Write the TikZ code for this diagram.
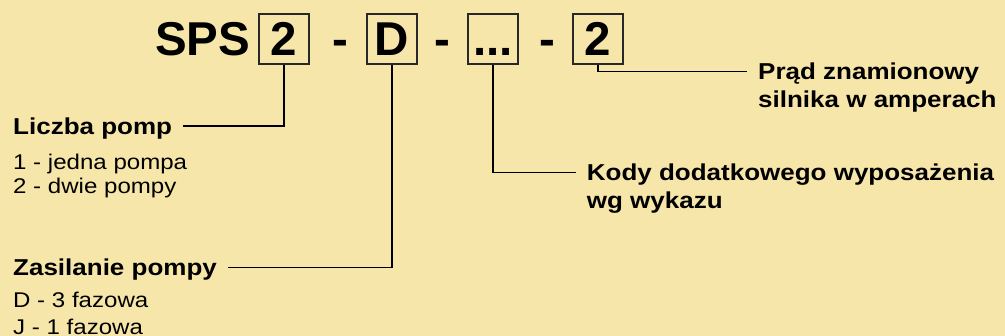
\documentclass[tikz,border=0pt]{standalone}
\usepackage{fontspec}
\setmainfont[FakeStretch=1.13]{Liberation Sans}
\newfontfamily\codefont{Liberation Sans}
\definecolor{paper}{RGB}{247,230,169}
\definecolor{boxline}{RGB}{40,40,40}

\begin{document}
\begin{tikzpicture}[x=1pt, y=1pt,
	box/.style={draw=boxline, line width=1.5pt, minimum width=50pt, minimum height=50pt, inner sep=0pt,
		text height=34pt, text depth=0pt, font=\codefont\bfseries\fontsize{47.5}{50}\selectfont},
	code/.style={inner sep=0pt, text height=34pt, text depth=0pt, font=\codefont\bfseries\fontsize{47.5}{50}\selectfont},
	head/.style={inner xsep=11pt, inner ysep=0pt, text height=16.5pt, text depth=0pt, font=\bfseries\fontsize{23}{27}\selectfont},
	multihead/.style={inner xsep=11pt, inner ysep=0pt, align=left, font=\bfseries\fontsize{23}{27.5}\selectfont},
	note/.style={inner sep=0pt, align=left, font=\fontsize{21.3}{24}\selectfont},
	lead/.style={line width=1.2pt}]
	\fill[paper] (0,0) rectangle (1005,336);
	\useasboundingbox (0,0) rectangle (1005,336);

	% type code
	\node[code, anchor=west] (sps) at (155,297) {SPS};
	\node[box] (n1) at (284,297) {2};
	\node[code] (dash1) at (340,297) {-};
	\node[box] (n2) at (392,297) {D};
	\node[code] (dash2) at (442.5,297) {-};
	\node[box] (n3) at (493,297) {...};
	\node[code] (dash3) at (547.5,297) {-};
	\node[box] (n4) at (598,297) {2};

	% descriptions (base = last line)
	\node[head, anchor=west] (liczba) at (2,210) {Liczba pomp};
	\node[note, anchor=base west] (liczbaopt) at (13,142.7) {1 - jedna pompa\\2 - dwie pompy};
	\node[head, anchor=west] (zasil) at (2,68.5) {Zasilanie pompy};
	\node[note, anchor=base west] (zasilopt) at (13,1.5) {D - 3 fazowa\\[3pt]J - 1 fazowa};
	\node[multihead, anchor=base west] (kody) at (575.7,127.7) {Kody dodatkowego wyposażenia\\wg wykazu};
	\node[multihead, anchor=base west] (prad) at (747,228.5) {Prąd znamionowy\\silnika w amperach};

	\draw[lead] (n1.south) |- (liczba.east)
	            (n2.south) |- (zasil.east)
	            (n3.south) |- ([yshift=35.75pt]kody.base west)
	            (n4.south) |- ([yshift=35.75pt]prad.base west);
\end{tikzpicture}
\end{document}
